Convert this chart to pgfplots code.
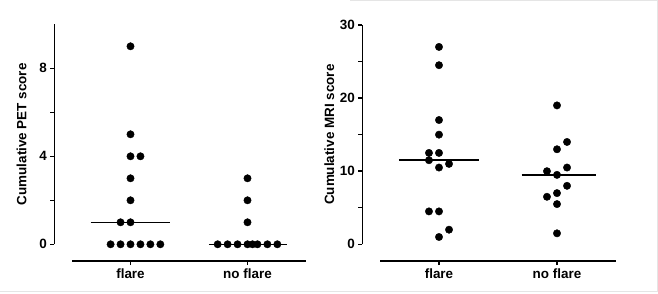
\documentclass[border=0pt]{standalone}
\usepackage{fontspec}
\setmainfont{Liberation Sans}
\usepackage{pgfplots}
\pgfplotsset{compat=1.18}
\pgfplotsset{
  prismstyle/.style={
    scale only axis,
    anchor=south west,
    clip=false,
    xmin=-0.5, xmax=1.5,
    axis x line*=bottom,
    axis y line*=left,
    axis x line shift=16.7bp,
    axis y line shift=17.7bp,
    xtick={0,1},
    xticklabels={flare,no flare},
    tick align=outside,
    major tick length=4bp,
    minor tick length=4bp,
    axis line style={line width=1.5pt},
    every tick/.style={black, line width=1.5pt},
    tick label style={font=\fontsize{13.5}{16}\selectfont\bfseries},
    /pgf/number format/assume math mode=true,
    ylabel style={at={(axis description cs:-0.215,0.5)}, rotate=0, anchor=center, font=\fontsize{13.5}{16}\selectfont\bfseries},
  },
  dots/.style={only marks, mark=*, mark size=3.7bp, black},
  med/.style={black, line width=1.5pt},
}
\begin{document}
\begin{tikzpicture}
\useasboundingbox (0,0) rectangle (658bp,294bp);
\draw[gray!20, line width=1bp] (0,2bp) -- (657bp,2bp) -- (657bp,293bp) -- (350bp,293bp);
% Left panel: PET
\begin{axis}[prismstyle,
  at={(72bp,49.7bp)},
  width=234bp, height=220bp,
  ymin=0, ymax=10,
  ytick={0,4,8}, minor ytick={2,6},
  ylabel={Cumulative PET score},
]
\addplot[dots] table {
x y
0 9
0 5
0 4
0.085 4
0 3
0 2
-0.085 1
0 1
-0.17 0
-0.085 0
0 0
0.085 0
0.17 0
0.255 0
};
\addplot[dots] table {
x y
1 3
1 2
1 1
0.745 0
0.83 0
0.915 0
1 0
1.043 0
1.085 0
1.17 0
1.255 0
};
\addplot[med] coordinates {(-0.34,1) (0.34,1)};
\addplot[med] coordinates {(0.67,0) (1.34,0)};
\end{axis}
% Right panel: MRI
\begin{axis}[prismstyle,
  at={(380bp,49.7bp)},
  width=236bp, height=219.3bp,
  ymin=0, ymax=30,
  ytick={0,10,20,30}, minor ytick={5,15,25},
  ylabel={Cumulative MRI score},
]
\addplot[dots] table {
x y
0 27
0 24.5
0 17
0 15
-0.085 12.5
0 12.5
-0.085 11.5
0.085 11
0 10.5
-0.085 4.5
0 4.5
0.085 2
0 1
};
\addplot[dots] table {
x y
1 19
1.085 14
1 13
1.085 10.5
0.915 10
1 9.5
1.085 8
1 7
0.915 6.5
1 5.5
1 1.5
};
\addplot[med] coordinates {(-0.34,11.5) (0.34,11.5)};
\addplot[med] coordinates {(0.70,9.5) (1.33,9.5)};
\end{axis}
\end{tikzpicture}
\end{document}
